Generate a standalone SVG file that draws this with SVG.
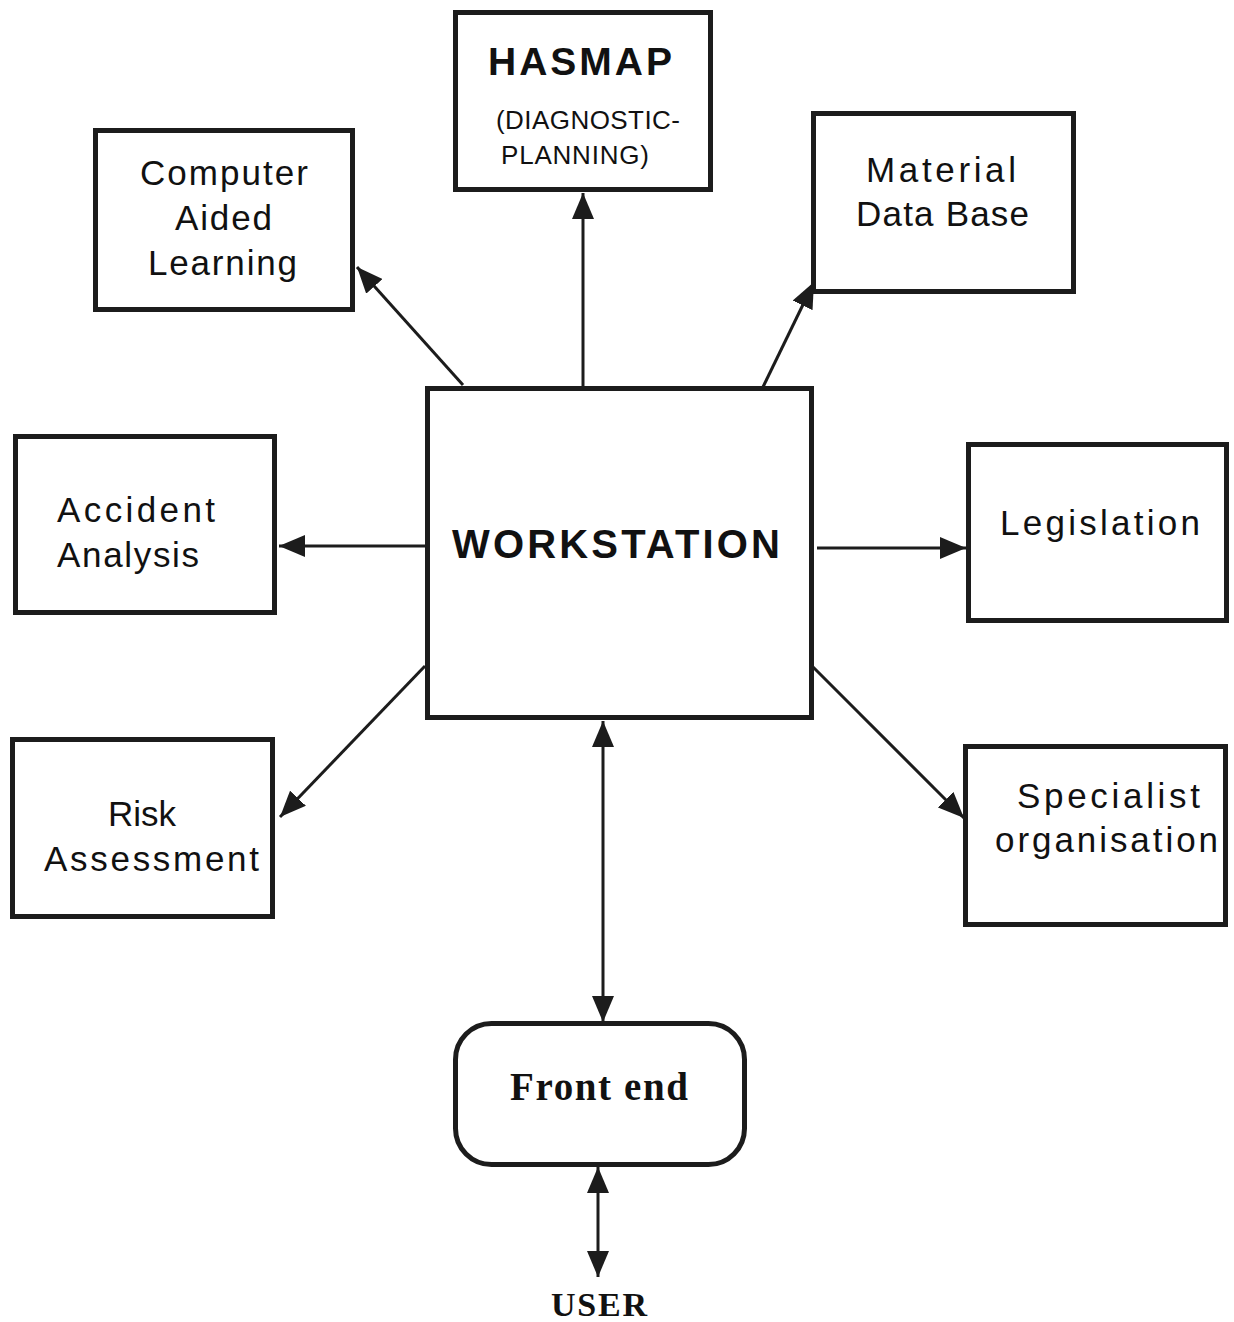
<svg xmlns="http://www.w3.org/2000/svg" width="1234" height="1322" viewBox="0 0 1234 1322">
  <defs>
    <style>
      .box { fill: #fff; stroke: #1c1c1c; stroke-width: 5; }
      .link { fill: none; stroke: #1c1c1c; stroke-width: 3; }
      .lbl { font-family: "Liberation Sans", Arial, Helvetica, sans-serif; font-size: 35px; fill: #111; }
      .bold { font-weight: bold; }
      .small { font-size: 26px; }
      .serif { font-family: "Liberation Serif", "Times New Roman", serif; font-weight: bold; fill: #111; }
    </style>
    <marker id="head" viewBox="0 0 26 22" refX="26" refY="11" markerWidth="26" markerHeight="22" markerUnits="userSpaceOnUse" orient="auto-start-reverse">
      <path d="M0,0 L26,11 L0,22 Z" fill="#1c1c1c"/>
    </marker>
  </defs>

  <rect width="1234" height="1322" fill="#fff"/>

  <!-- connectors -->
  <g id="connectors">
    <line class="link" x1="463" y1="385" x2="357" y2="267" marker-end="url(#head)"/>
    <line class="link" x1="583" y1="386" x2="583" y2="193" marker-end="url(#head)"/>
    <line class="link" x1="762" y1="389" x2="814" y2="282" marker-end="url(#head)"/>
    <line class="link" x1="427" y1="546" x2="279" y2="546" marker-end="url(#head)"/>
    <line class="link" x1="817" y1="548" x2="966" y2="548" marker-end="url(#head)"/>
    <line class="link" x1="425" y1="666" x2="280" y2="817" marker-end="url(#head)"/>
    <line class="link" x1="813" y1="667" x2="964" y2="818" marker-end="url(#head)"/>
    <line class="link" x1="603" y1="721" x2="603" y2="1022" marker-start="url(#head)" marker-end="url(#head)"/>
    <line class="link" x1="598" y1="1167" x2="598" y2="1277" marker-start="url(#head)" marker-end="url(#head)"/>
  </g>

  <!-- nodes -->
  <g id="computer-aided-learning">
    <rect class="box" x="95.5" y="130.5" width="257" height="179"/>
    <text class="lbl" x="140" y="185" textLength="168" lengthAdjust="spacing">Computer</text>
    <text class="lbl" x="175" y="230" textLength="97" lengthAdjust="spacing">Aided</text>
    <text class="lbl" x="148" y="275" textLength="149" lengthAdjust="spacing">Learning</text>
  </g>

  <g id="hasmap">
    <rect class="box" x="455.5" y="12.5" width="255" height="177"/>
    <text class="lbl bold" x="488" y="75" style="font-size:39px" textLength="184" lengthAdjust="spacing">HASMAP</text>
    <text class="lbl small" x="496" y="129" textLength="184" lengthAdjust="spacing">(DIAGNOSTIC-</text>
    <text class="lbl small" x="501" y="164" textLength="148" lengthAdjust="spacing">PLANNING)</text>
  </g>

  <g id="material-data-base">
    <rect class="box" x="813.5" y="113.5" width="260" height="178"/>
    <text class="lbl" x="866" y="182" textLength="150" lengthAdjust="spacing">Material</text>
    <text class="lbl" x="856" y="226" textLength="173" lengthAdjust="spacing">Data Base</text>
  </g>

  <g id="accident-analysis">
    <rect class="box" x="15.5" y="436.5" width="259" height="176"/>
    <text class="lbl" x="57" y="522" textLength="158" lengthAdjust="spacing">Accident</text>
    <text class="lbl" x="57" y="567" textLength="142" lengthAdjust="spacing">Analysis</text>
  </g>

  <g id="workstation">
    <rect class="box" x="427.5" y="388.5" width="384" height="329"/>
    <text class="lbl bold" x="452" y="558" style="font-size:40px" textLength="328" lengthAdjust="spacing">WORKSTATION</text>
  </g>

  <g id="legislation">
    <rect class="box" x="968.5" y="444.5" width="258" height="176"/>
    <text class="lbl" x="1000" y="535" textLength="200" lengthAdjust="spacing">Legislation</text>
  </g>

  <g id="risk-assessment">
    <rect class="box" x="12.5" y="739.5" width="260" height="177"/>
    <text class="lbl" x="108" y="826" textLength="68" lengthAdjust="spacing">Risk</text>
    <text class="lbl" x="44" y="871" textLength="215" lengthAdjust="spacing">Assessment</text>
  </g>

  <g id="specialist-organisation">
    <rect class="box" x="965.5" y="746.5" width="260" height="178"/>
    <text class="lbl" x="1017" y="808" textLength="183" lengthAdjust="spacing">Specialist</text>
    <text class="lbl" x="995" y="852" textLength="223" lengthAdjust="spacing">organisation</text>
  </g>

  <g id="front-end">
    <rect class="box" x="455.5" y="1023.5" width="289" height="141" rx="36" ry="36"/>
    <text class="serif" x="510" y="1100" font-size="39" textLength="178" lengthAdjust="spacing">Front end</text>
  </g>

  <g id="user">
    <text class="serif" x="551" y="1316" font-size="34" textLength="96" lengthAdjust="spacing">USER</text>
  </g>
</svg>
